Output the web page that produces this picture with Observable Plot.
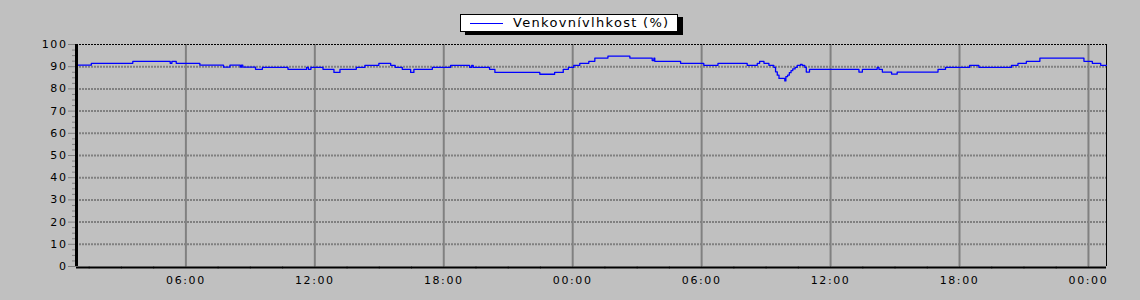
<!DOCTYPE html>
<html>
<head>
<meta charset="utf-8">
<script src="https://cdn.jsdelivr.net/npm/d3@7"></script>
<script src="https://cdn.jsdelivr.net/npm/@observablehq/plot@0.6"></script>
<style>
  html, body { margin: 0; padding: 0; background: #c0c0c0; }
  #wrap { position: relative; width: 1140px; height: 300px; overflow: hidden; }
  #legend {
    position: absolute; left: 460px; top: 14px; width: 216px; height: 16px;
    background: #fff; border: 1px solid #000; box-shadow: 5px 3px 0 #000;
    font-family: "DejaVu Sans", sans-serif; font-size: 13px; letter-spacing: 1.3px; color: #000;
  }
  #legend .sw { position: absolute; left: 9px; top: 8px; width: 33px; height: 0; border-top: 1px solid #0000ff; }
  #legend .tx { position: absolute; left: 52px; top: 0px; white-space: nowrap; line-height: 16px; }
</style>
</head>
<body>
<div id="wrap">
  <div id="chart"></div>
  <div id="legend"><div class="sw"></div><div class="tx">Venkovnívlhkost (%)</div></div>
</div>
<script>
// Series name
const seriesName = "Venkovnívlhkost (%)";
// Hours since 00:00 of day 1 at which each step begins
const hours = [0.91,1.60,3.53,5.27,5.35,5.55,6.65,7.75,8.05,8.53,8.58,8.65,9.24,9.56,10.75,11.62,11.70,11.82,12.38,12.89,13.17,13.93,14.33,14.98,15.53,15.74,16.07,16.46,16.61,17.47,18.32,19.20,19.30,19.37,20.13,20.38,22.47,23.16,23.56,23.80,24.05,24.33,24.75,25.03,25.64,26.66,27.70,27.78,27.82,29.02,30.10,30.76,32.12,32.59,32.70,32.90,33.13,33.36,33.44,33.52,33.60,33.87,33.92,34.00,34.08,34.16,34.24,34.35,34.45,34.60,34.68,34.80,34.87,35.02,37.32,37.48,38.17,38.25,38.41,38.84,39.10,41.00,41.35,42.47,42.90,44.42,44.72,45.11,45.74,47.79,48.18,48.57,48.84];
// Humidity (%) from each step start
const humidity = [90.7,91.5,92.4,91.5,92.4,91.5,90.7,89.8,90.7,89.8,90.7,89.8,88.8,89.7,88.8,89.7,88.8,89.7,88.8,87.4,88.8,89.7,90.6,91.5,90.6,89.7,88.8,87.4,88.8,89.7,90.6,89.7,90.6,89.7,88.8,87.4,86.6,87.4,88.8,89.7,90.6,91.5,92.4,93.9,94.8,93.9,92.8,93.9,92.4,91.5,90.6,91.5,90.6,91.5,92.4,91.5,90.6,89.7,87.7,86.2,84.7,83.6,85.5,86.2,87.3,88.2,89.0,89.7,90.6,91.0,90.6,89.7,87.6,88.8,87.6,88.8,89.7,88.8,87.6,86.7,87.6,88.8,89.7,90.6,89.7,90.6,91.5,92.4,93.9,92.4,91.5,90.6,90.6];
// Axis ticks
const yTicks = [0,10,20,30,40,50,60,70,80,90,100];
const yMinorTicks = [2.5,5,7.5,12.5,15,17.5,22.5,25,27.5,32.5,35,37.5,42.5,45,47.5,52.5,55,57.5,62.5,65,67.5,72.5,75,77.5,82.5,85,87.5,92.5,95,97.5];
const xMajorHours = [6,12,18,24,30,36,42,48];
const xMinorHours = [1.5,3,4.5,7.5,9,10.5,13.5,15,16.5,19.5,21,22.5,25.5,27,28.5,31.5,33,34.5,37.5,39,40.5,43.5,45,46.5];
const xDomainHours = [0.91, 48.84];

const base = new Date(2024, 0, 1, 0, 0, 0);
const toDate = h => new Date(base.getTime() + h * 3600e3);
const data = hours.map((h, i) => ({t: toDate(h), v: humidity[i]}));
const xDomain = xDomainHours.map(toDate);
const majors = xMajorHours.map(toDate);
const minors = xMinorHours.map(toDate);
const fmt = d3.timeFormat("%H:%M");

const chart = Plot.plot({
  width: 1140,
  height: 300,
  marginTop: 44,
  marginBottom: 34,
  marginLeft: 76,
  marginRight: 34,
  style: {background: "#c0c0c0", fontFamily: "DejaVu Sans, sans-serif", fontSize: "11px", letterSpacing: "1.6px", color: "#000"},
  x: {type: "time", domain: xDomain},
  y: {domain: [0, 100]},
  marks: [
    Plot.ruleY(yTicks.filter(d => d > 0 && d < 100), {stroke: "#808080", strokeWidth: 2, strokeDasharray: "2,1"}),
    Plot.ruleX(majors.filter(d => d < xDomain[1]), {stroke: "#808080", strokeWidth: 2}),
    Plot.ruleY([100], {stroke: "#000", strokeWidth: 1, strokeDasharray: "2,1"}),
    Plot.ruleX([xDomain[1]], {stroke: "#000", strokeWidth: 1}),
    Plot.line(data, {x: "t", y: "v", curve: "step-after", stroke: "#0000ff", strokeWidth: 1.3}),
    Plot.axisY({ticks: yTicks, tickSize: 8, tickPadding: 1, stroke: "#808080", fill: "#000", label: null}),
    Plot.axisY({ticks: yMinorTicks, tickSize: 4, text: null, stroke: "#808080", label: null}),
    Plot.axisX({ticks: majors, tickSize: 2, tickPadding: 8, tickFormat: fmt, stroke: "#808080", fill: "#000", label: null}),
    Plot.axisX({ticks: minors, tickSize: 3, text: null, stroke: "#808080", label: null}),
    Plot.ruleY([0], {stroke: "#000", strokeWidth: 2, dy: 1}),
    Plot.ruleX([xDomain[0]], {stroke: "#000", strokeWidth: 3, dy: 0})
  ]
});
document.getElementById("chart").appendChild(chart);
</script>
</body>
</html>
